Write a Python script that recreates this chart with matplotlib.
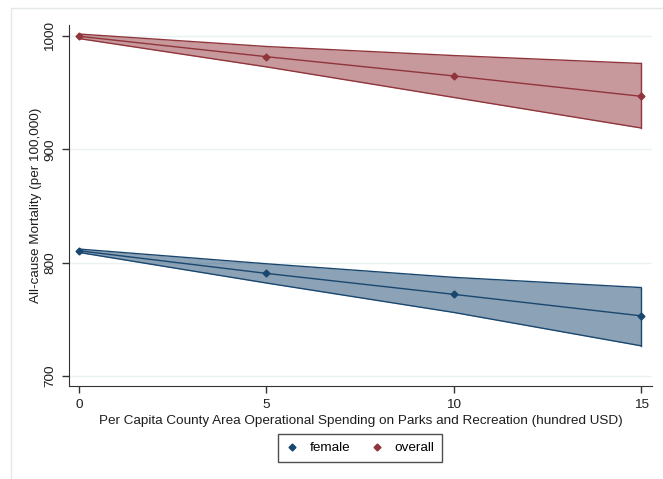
import matplotlib.pyplot as plt
from matplotlib.patches import Rectangle
from matplotlib.lines import Line2D

plt.rcParams.update({"font.family": ["Liberation Sans", "DejaVu Sans"], "font.size": 9.7})

spending = [0, 5, 10, 15]
overall = [1000, 982, 965, 947]
overall_lo = [998, 973, 946, 919]
overall_hi = [1002, 991, 983, 976]
female = [810.5, 790.5, 772, 753]
female_lo = [809, 782, 756, 726.5]
female_hi = [812, 799, 787, 778]

xticks = [0, 5, 10, 15]
yticks = [700, 800, 900, 1000]

navy = "#1a476f"
maroon = "#90353b"

fig = plt.figure(figsize=(6.63, 4.79), dpi=100)
fig.patches.append(Rectangle((11 / 663, -0.1), 1.2, 1 - 8 / 479 + 0.1, transform=fig.transFigure,
                             fill=False, edgecolor="#e4e8ea", linewidth=1))
ax = fig.add_axes([69 / 663, 1 - 386 / 479, (652 - 69) / 663, (386 - 25) / 479])

for yt in yticks:
    ax.axhline(yt, color="#eaf2f3", linewidth=1, zorder=0)

for mid, lo, hi, col in [(overall, overall_lo, overall_hi, maroon), (female, female_lo, female_hi, navy)]:
    ax.fill_between(spending, lo, hi, color=col, alpha=0.5, linewidth=0, zorder=1)
    ax.plot(spending, lo, color=col, linewidth=1, zorder=2)
    ax.plot(spending, hi, color=col, linewidth=1, zorder=2)
    ax.plot([spending[-1]] * 2, [lo[-1], hi[-1]], color=col, linewidth=1, zorder=2)
    ax.plot(spending, mid, color=col, linewidth=1, marker="D", markersize=3.5, zorder=3)

ax.set_xlim(-0.27, 15.29)
ax.set_ylim(691, 1010)
ax.set_xticks(xticks)
ax.set_yticks(yticks)
ax.set_yticklabels([str(v) for v in yticks], rotation=90, va="center")
ax.tick_params(direction="out", length=5, width=1, color="#333333", labelcolor="#1e1e1e", pad=4)
for s in ["top", "right"]:
    ax.spines[s].set_visible(False)
for s in ["left", "bottom"]:
    ax.spines[s].set_color("#333333")
ax.set_xlabel("Per Capita County Area Operational Spending on Parks and Recreation (hundred USD)",
              color="#1e1e1e", labelpad=3)
ax.set_ylabel("All-cause Mortality (per 100,000)", color="#1e1e1e", labelpad=2)

handles = [Line2D([], [], color=navy, marker="D", markersize=3.5, linestyle="none"),
           Line2D([], [], color=maroon, marker="D", markersize=3.5, linestyle="none")]
leg = fig.legend(handles, ["female", "overall"], loc="center", bbox_to_anchor=(360 / 663, 1 - 448 / 479),
                 ncol=2, frameon=True, fancybox=False, edgecolor="#222222", handlelength=1.0,
                 columnspacing=1.5, handletextpad=0.8, borderpad=0.55)
leg.get_frame().set_linewidth(1)

fig.savefig("out.png", dpi=100, facecolor="white")
